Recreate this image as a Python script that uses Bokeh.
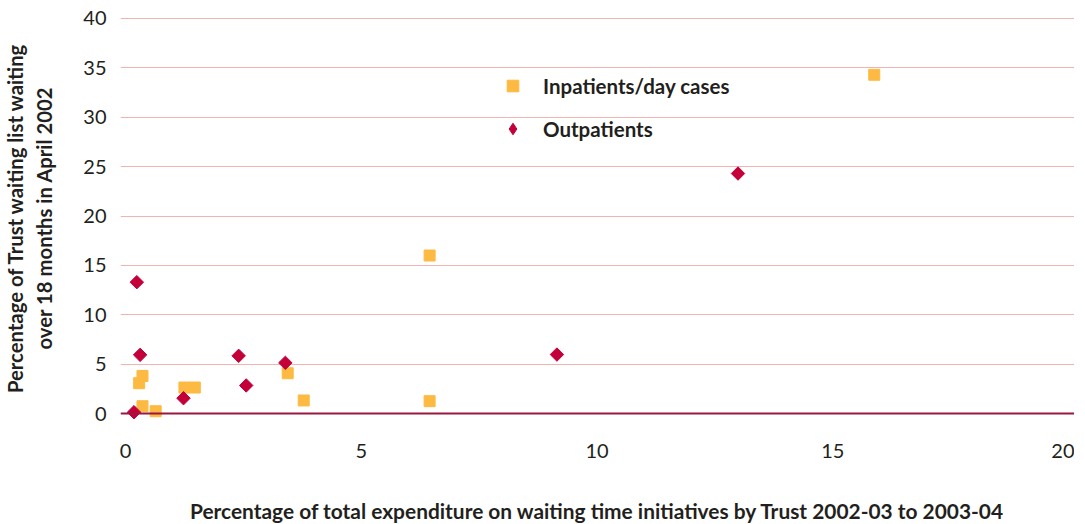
from bokeh.plotting import figure
from bokeh.models import FixedTicker, Span, Legend, LegendItem, Range1d
from bokeh.embed import file_html
from bokeh.resources import INLINE

# Data
inpatients_x = [0.29, 0.36, 0.36, 0.64, 1.25, 1.47, 3.44, 3.78, 6.45, 6.45, 15.88]
inpatients_y = [3.07, 3.8, 0.74, 0.23, 2.63, 2.63, 4.08, 1.32, 16.0, 1.25, 34.3]

outpatients_x = [0.18, 0.24, 0.31, 1.23, 2.40, 2.56, 3.39, 9.15, 12.99]
outpatients_y = [0.13, 13.3, 5.94, 1.55, 5.84, 2.84, 5.13, 5.97, 24.3]

x_ticks = [0, 5, 10, 15, 20]
y_ticks = [0, 5, 10, 15, 20, 25, 30, 35, 40]

series_names = ["Inpatients/day cases", "Outpatients"]
x_title = "Percentage of total expenditure on waiting time initiatives by Trust 2002-03 to 2003-04"
y_title = "Percentage of Trust waiting list waiting\nover 18 months in April 2002"

FONT = "Lato"
TEXT = "#231F20"
ORANGE = "#FDBA42"
RED = "#C4003A"

p = figure(frame_width=954, frame_height=415, output_backend="svg", toolbar_location=None,
           x_range=Range1d(-0.106, 20.127), y_range=Range1d(-1.215, 40.81),
           min_border_left=120, min_border_right=0, min_border_top=10, min_border_bottom=97)
p.outline_line_color = None
p.background_fill_color = "white"

# grid
p.xgrid.grid_line_color = None
p.ygrid.grid_line_color = "#F2B4AE"
p.ygrid.grid_line_width = 1
p.yaxis.ticker = FixedTicker(ticks=y_ticks)
p.xaxis.ticker = FixedTicker(ticks=x_ticks)
p.ygrid.ticker = FixedTicker(ticks=y_ticks[1:])

zero = Span(location=0, dimension="width", line_color="#9A1740", line_width=2)
p.add_layout(zero)

for ax in (p.xaxis, p.yaxis):
    ax.axis_line_color = None
    ax.major_tick_line_color = None
    ax.minor_tick_line_color = None
    ax.major_label_text_font = FONT
    ax.major_label_text_font_size = "20px"
    ax.major_label_text_color = TEXT
    ax.axis_label_text_font = FONT
    ax.axis_label_text_font_style = "bold"
    ax.axis_label_text_color = TEXT

p.xaxis.axis_label_text_font_size = "20.9px"
p.yaxis.axis_label_text_font_size = "20.3px"
p.yaxis.major_label_standoff = 8
p.xaxis.major_label_standoff = 12
p.xaxis.axis_label = x_title
p.xaxis.axis_label_standoff = 37
p.yaxis.axis_label = y_title
p.yaxis.axis_label_standoff = 24

r1 = p.scatter(inpatients_x, inpatients_y, marker="square", size=11,
               fill_color=ORANGE, line_color=ORANGE)
r2 = p.scatter(outpatients_x, outpatients_y, marker="square", size=9.5, angle=0.7854,
               fill_color=RED, line_color=RED)
# legend glyph for outpatients (Bokeh's legend ignores marker angle)
r2_key = p.scatter(outpatients_x, outpatients_y, marker="diamond", size=12,
                   fill_color=RED, line_color=RED, visible=False)

legend = Legend(items=[LegendItem(label=series_names[0], renderers=[r1]),
                       LegendItem(label=series_names[1], renderers=[r2_key])],
                location=(378, 282), orientation="vertical")
legend.background_fill_alpha = 0
legend.border_line_color = None
legend.padding = 0
legend.margin = 0
legend.spacing = 14
legend.glyph_width = 29
legend.glyph_height = 29
legend.label_height = 29
legend.label_standoff = 16
legend.label_text_font = FONT
legend.label_text_font_style = "bold"
legend.label_text_font_size = "20.5px"
legend.label_text_color = TEXT
p.add_layout(legend, "center")

open("out.html", "w").write(file_html(p, INLINE))
